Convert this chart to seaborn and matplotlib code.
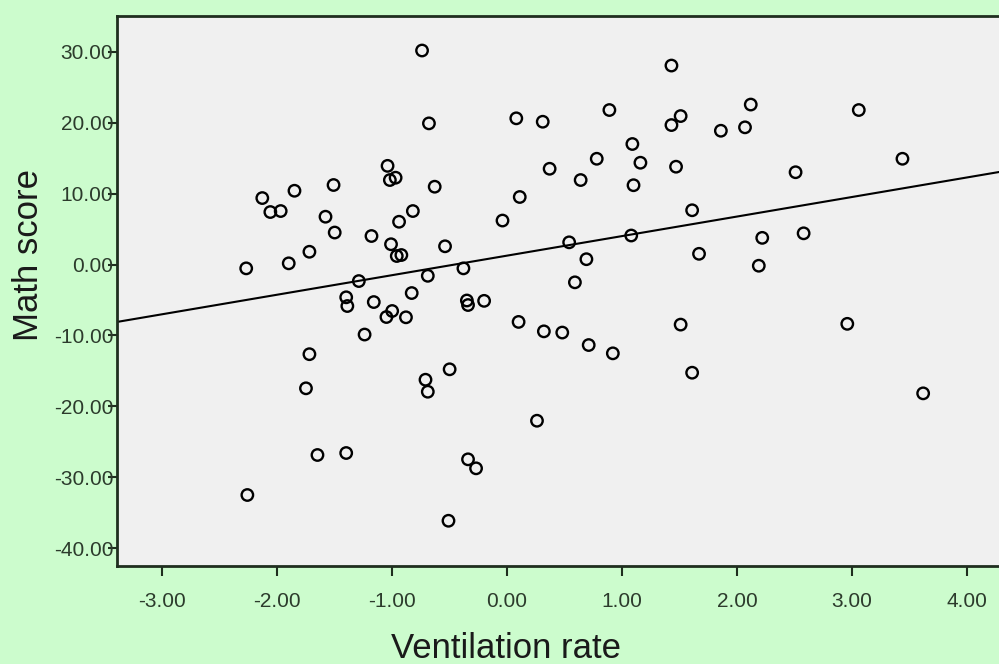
"""
Scatter plot of math score vs ventilation rate with a linear fit line,
styled after an SPSS chart (mint background, grey plot area).
"""
import matplotlib
matplotlib.use("Agg")
import matplotlib.pyplot as plt
import pandas as pd
import seaborn as sns

# ── Data ──
ventilation_rate = [
    -0.74, 1.43, 0.89, 2.12, 3.06, 0.08, 0.31, -0.68, 1.43, 1.51,
    1.86, 2.07, 1.09, 1.16, 0.78, 0.37, 0.64, 1.47, 1.10, 0.11,
    -0.04, 1.61, 3.44, 2.51, -0.54, -0.92, 0.54, 1.08, 1.67, 0.69,
    -0.69, -0.38, 0.59, -0.83, -0.88, -0.35, -0.34, -0.20, 0.10, 0.32,
    0.48, 0.71, 0.92, 1.51, 1.61, -0.50, -0.71, -0.69, 0.26, 2.22,
    2.58, 2.19, 2.96, 3.62, -2.27, -2.13, -2.06, -1.97, -1.85, -1.90,
    -1.72, -1.51, -1.58, -1.50, -1.18, -1.04, -1.02, -0.97, -0.82, -0.94,
    -0.63, -1.01, -0.96, -1.29, -1.40, -1.39, -1.16, -1.05, -1.00, -1.24,
    -1.72, -1.75, -1.65, -1.40, -2.26, -0.34, -0.27, -0.51,
]
math_score = [
    30.17, 28.05, 21.78, 22.55, 21.78, 20.61, 20.13, 19.90, 19.66, 20.93,
    18.86, 19.34, 16.99, 14.35, 14.91, 13.50, 11.91, 13.79, 11.18, 9.52,
    6.20, 7.65, 14.91, 13.01, 2.57, 1.34, 3.13, 4.09, 1.51, 0.75,
    -1.59, -0.54, -2.51, -4.02, -7.44, -5.07, -5.71, -5.12, -8.09, -9.42,
    -9.59, -11.35, -12.52, -8.47, -15.25, -14.77, -16.24, -17.93, -22.02, 3.76,
    4.40, -0.17, -8.36, -18.16, -0.54, 9.37, 7.40, 7.54, 10.40, 0.17,
    1.80, 11.21, 6.74, 4.51, 4.02, 13.91, 11.91, 12.24, 7.54, 6.03,
    10.97, 2.86, 1.20, -2.33, -4.62, -5.85, -5.29, -7.40, -6.55, -9.87,
    -12.64, -17.45, -26.85, -26.57, -32.49, -27.46, -28.73, -36.12,
]
x_ticks = [-3, -2, -1, 0, 1, 2, 3, 4]
y_ticks = [-40, -30, -20, -10, 0, 10, 20, 30]

df = pd.DataFrame({"Ventilation rate": ventilation_rate, "Math score": math_score})

# ── Style ──
sns.set_theme(style="ticks")
plt.rcParams["font.family"] = ["Liberation Sans", "DejaVu Sans"]

BG_GREEN = "#ccfccd"
PLOT_GREY = "#f0f0f0"
AXIS_DARK = "#1f2e1f"
TICK_TEXT = "#2c3b2c"

fig = plt.figure(figsize=(9.99, 6.64), dpi=100, facecolor=BG_GREEN)
ax = fig.add_axes([0.1176, 0.148, 0.8824, 0.8286])
ax.set_facecolor(PLOT_GREY)

ax.set_xlim(-3.39, 4.28)
ax.set_ylim(-42.46, 35.1)

sns.regplot(
    data=df, x="Ventilation rate", y="Math score", ax=ax,
    ci=None, truncate=False, color="black",
    scatter_kws={"facecolors": "none", "s": 68, "linewidths": 1.7, "alpha": 1},
    line_kws={"linewidth": 1.5},
)

ax.set_xticks(x_ticks)
ax.set_yticks(y_ticks)
ax.set_xticklabels([f"{v:.2f}" for v in x_ticks])
ax.set_yticklabels([f"{v:.2f}" for v in y_ticks])
ax.tick_params(axis="x", length=7, width=1.5, pad=12, labelsize=15,
               colors=AXIS_DARK, labelcolor=TICK_TEXT)
ax.tick_params(axis="y", length=6.5, width=1.5, pad=-3.5, labelsize=15,
               colors=AXIS_DARK, labelcolor=TICK_TEXT)

for side in ["left", "bottom", "top"]:
    ax.spines[side].set_color(AXIS_DARK)
    ax.spines[side].set_linewidth(2.0)
ax.spines["right"].set_visible(False)

ax.set_xlabel("Ventilation rate", fontsize=25, color="#1a1a1a")
ax.set_ylabel("Math score", fontsize=25, color="#1a1a1a")
ax.xaxis.set_label_coords(0.4407, -0.1205)
ax.yaxis.set_label_coords(-0.082, 0.565)

fig.savefig("out.png", dpi=100, facecolor=BG_GREEN)
